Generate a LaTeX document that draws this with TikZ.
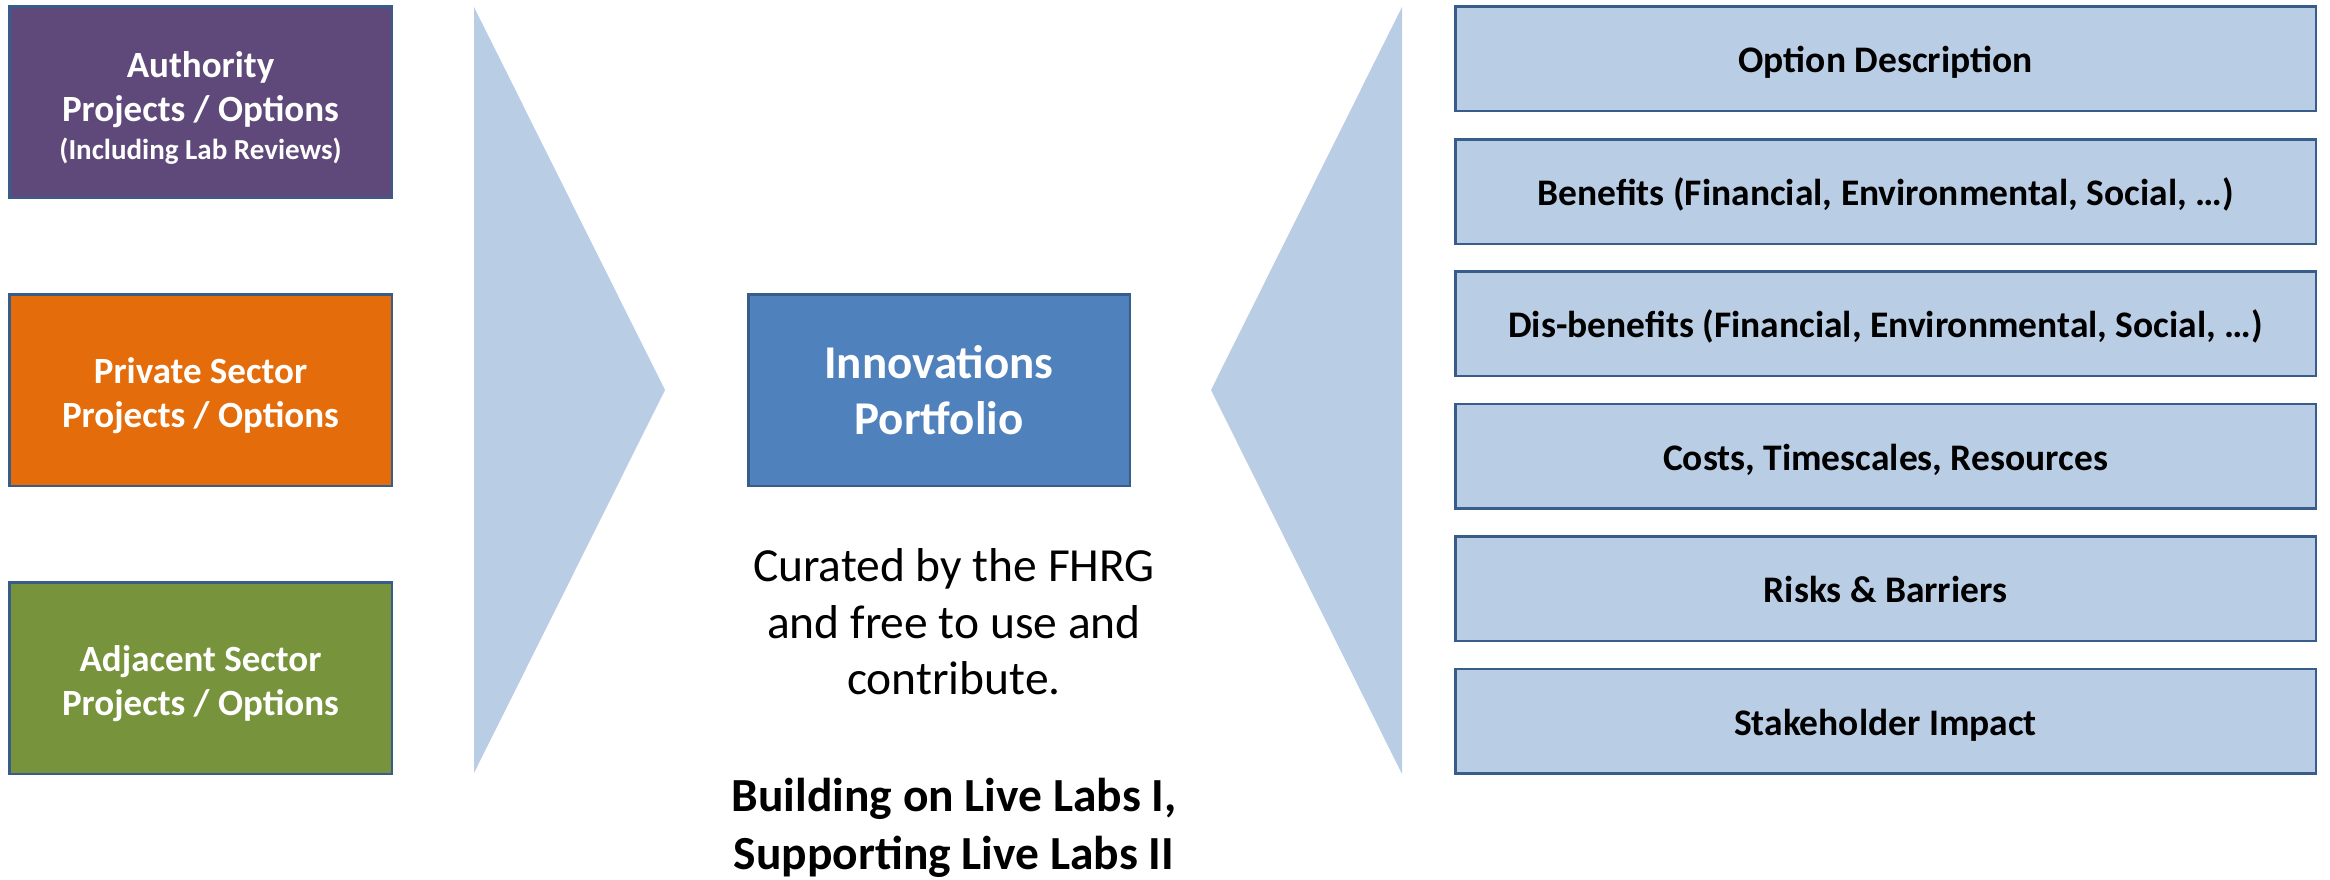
\documentclass[tikz,border=0pt]{standalone}
\usepackage{fontspec}
\setmainfont{Carlito}
\definecolor{bordblue}{HTML}{385D8A}
\definecolor{lightblue}{HTML}{B9CDE5}
\definecolor{midblue}{HTML}{4F81BD}
\definecolor{purplebox}{HTML}{5F497A}
\definecolor{orangebox}{HTML}{E46C0A}
\definecolor{greenbox}{HTML}{77933C}
\newcommand{\tallstrut}{\rule{0pt}{38pt}}
\tikzset{
  srcbox/.style={draw=bordblue, line width=2.5pt, minimum width=382.5pt, minimum height=191.5pt,
    inner sep=0pt, text=white, align=center,
    font=\bfseries\fontsize{37}{44}\selectfont},
  portbox/.style={fill=midblue, draw=bordblue, line width=2.5pt, minimum width=381.5pt, minimum height=191.5pt,
    inner sep=0pt, text=white, align=center, font=\bfseries\fontsize{47}{56}\selectfont},
  attrbox/.style={fill=lightblue, draw=bordblue, line width=2.5pt, minimum width=860.5pt, minimum height=104.5pt,
    inner sep=0pt, text=black, align=center, text height=32pt, text depth=4pt,
    font=\bfseries\fontsize{37.5}{44}\selectfont},
  chevron/.style={fill=lightblue, draw=none},
  bodytext/.style={inner sep=0pt, align=center, text=black, font=\fontsize{47.5}{56.5}\selectfont},
  boldtext/.style={inner sep=0pt, align=center, text=black, font=\bfseries\fontsize{47.5}{58}\selectfont}
}
\begin{document}
\begin{tikzpicture}[x=1pt,y=-1pt]
\useasboundingbox (0,0) rectangle (2330,879);
% chevrons
\fill[chevron] (474,7) -- (665,390) -- (474,773) -- cycle;
\fill[chevron] (1402,7) -- (1211,390) -- (1402,774) -- cycle;
% source boxes
\node[srcbox, fill=purplebox] (auth) at (200.5,102) {\tallstrut Authority\\Projects / Options\\[-6pt]{\fontsize{29}{35}\selectfont (Including Lab Reviews)}};
\node[srcbox, fill=orangebox] (priv) at (200.5,390) {\tallstrut Private Sector\\Projects / Options};
\node[srcbox, fill=greenbox] (adj) at (200.5,678) {\tallstrut Adjacent Sector\\Projects / Options};
% portfolio
\node[portbox] (port) at (939,390) {Innovations\\Portfolio};
\node[bodytext] (cur) at (954,622) {Curated by the FHRG\\and free to use and\\contribute.};
\node[boldtext] (build) at (954,827.5) {Building on Live Labs I,\\Supporting Live Labs II};
% attribute boxes
\node[attrbox] (a1) at (1885.5,58.5) {Option Description};
\node[attrbox] (a2) at (1885.5,191.5) {Benefits (Financial, Environmental, Social, …)};
\node[attrbox] (a3) at (1885.5,323.5) {Dis-benefits (Financial, Environmental, Social, …)};
\node[attrbox] (a4) at (1885.5,456) {Costs, Timescales, Resources};
\node[attrbox] (a5) at (1885.5,588.5) {Risks \& Barriers};
\node[attrbox] (a6) at (1885.5,721) {Stakeholder Impact};
\end{tikzpicture}
\end{document}
